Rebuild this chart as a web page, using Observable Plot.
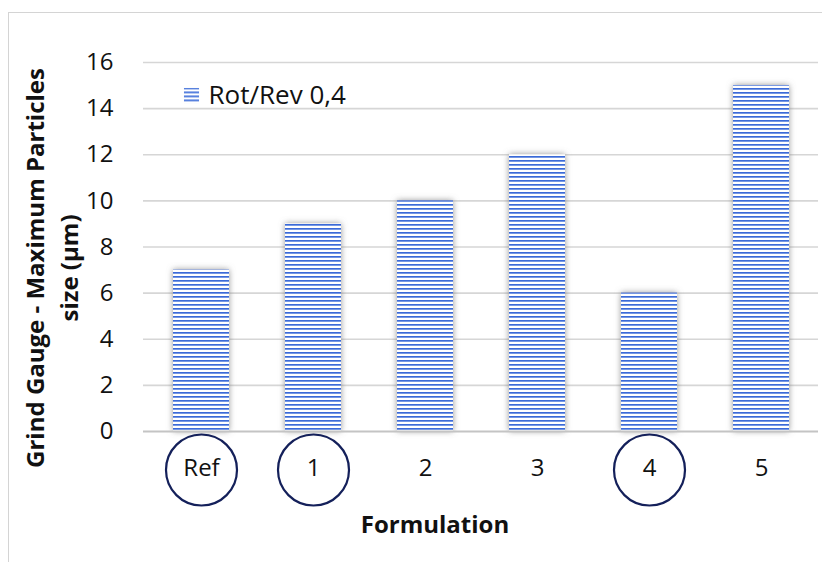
<!DOCTYPE html>
<html>
<head>
<meta charset="utf-8">
<script src="https://cdn.jsdelivr.net/npm/d3@7"></script>
<script src="https://cdn.jsdelivr.net/npm/@observablehq/plot@0.6"></script>
<style>
  html, body { margin: 0; padding: 0; background: #ffffff; }
  #wrap { position: relative; width: 822px; height: 562px; overflow: hidden; }
  #border { position: absolute; left: 8px; top: 12px; width: 830px; height: 570px; border: 1px solid #d4d4d4; box-sizing: border-box; pointer-events: none; }
</style>
</head>
<body>
<svg width="0" height="0" style="position:absolute">
  <defs>
    <pattern id="stripes" patternUnits="userSpaceOnUse" width="8" height="4">
      <rect width="8" height="4" fill="#ffffff"></rect>
      <rect y="0" width="8" height="1.7" fill="#3b6bd8"></rect>
    </pattern>
    <filter id="shadow" x="-30%" y="-10%" width="160%" height="120%">
      <feDropShadow dx="0" dy="0" stdDeviation="3" flood-color="#7a7a7a" flood-opacity="0.8"></feDropShadow>
    </filter>
  </defs>
</svg>
<div id="wrap"><div id="border"></div></div>
<script>
const categories = ["Ref", "1", "2", "3", "4", "5"];
const values = [7, 9, 10, 12, 6, 15];
const circled = ["Ref", "1", "4"];
const yTicks = [0, 2, 4, 6, 8, 10, 12, 14, 16];
const seriesName = "Rot/Rev 0,4";
const yTitle = "Grind Gauge - Maximum Particles\nsize (µm)";
const xTitle = "Formulation";

const data = categories.map((c, i) => ({category: c, value: values[i]}));

const chart = Plot.plot({
  width: 822,
  height: 562,
  marginLeft: 143,
  marginRight: 4,
  marginTop: 62,
  marginBottom: 131,
  style: {fontFamily: "'Open Sans', sans-serif", fontSize: "24px", background: "transparent", color: "#111"},
  x: {domain: categories, paddingInner: 0.5, paddingOuter: 0.25},
  y: {domain: [0, 16]},
  marks: [
    Plot.ruleY(yTicks.filter(d => d > 0), {stroke: "#d6d6d6", strokeWidth: 1.6}),
    Plot.barY(data, {x: "category", y: "value", fill: "url(#stripes)"}),
    Plot.ruleY([0], {stroke: "#c4c4c4", strokeWidth: 2}),
    Plot.axisY({ticks: yTicks, tickSize: 0, tickPadding: 30, label: null, fontSize: 24}),
    Plot.axisX({tickSize: 0, tickPadding: 27, label: null, fontSize: 24}),
    Plot.dot(circled, {x: d => d, frameAnchor: "bottom", dy: 38.5, r: 35.5, stroke: "#14205a", strokeWidth: 2.2, fill: "none"}),
    Plot.dot([seriesName], {frameAnchor: "top-left", dx: 48, dy: 33, symbol: "square", r: 8.5, fill: "url(#stripes)"}),
    Plot.text([seriesName], {frameAnchor: "top-left", dx: 65, dy: 33, text: d => d, textAnchor: "start", lineAnchor: "middle", fontSize: 26, fill: "#111"}),
    Plot.text([yTitle], {frameAnchor: "left", text: d => d, rotate: -90, dx: -93, dy: 21, textAnchor: "middle", lineAnchor: "middle", fontWeight: "bold", fontSize: 24, lineHeight: 1.4, fill: "#111"}),
    Plot.text([xTitle], {frameAnchor: "bottom", text: d => d, dx: -46, dy: 94, textAnchor: "middle", lineAnchor: "middle", fontWeight: "bold", fontSize: 24, fill: "#111"})
  ]
});

d3.select(chart).selectAll('g[aria-label="bar"]').attr("filter", "url(#shadow)");
document.getElementById("wrap").prepend(chart);
</script>
</body>
</html>
